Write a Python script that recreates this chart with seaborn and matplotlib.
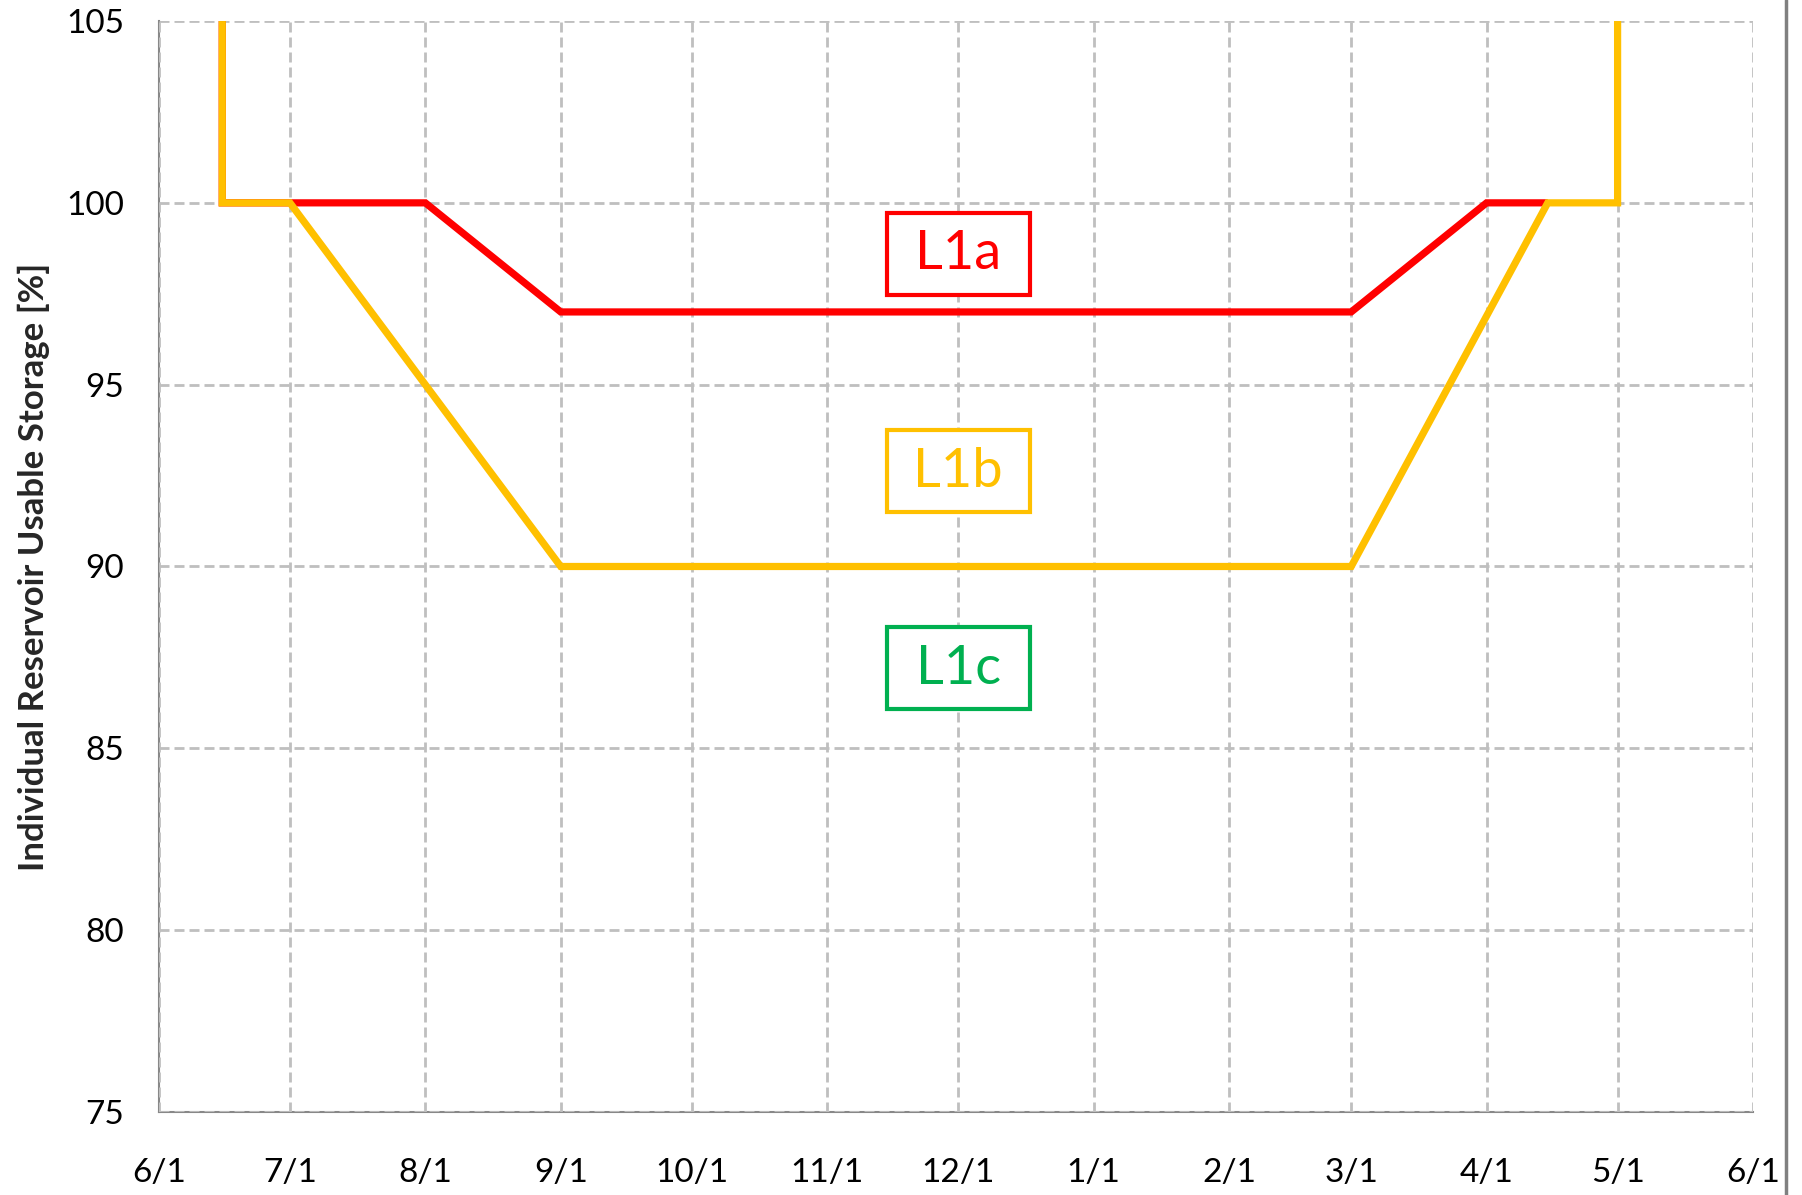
import matplotlib
matplotlib.use("Agg")
import matplotlib.pyplot as plt
import matplotlib.lines as mlines
from matplotlib.patches import Rectangle
import matplotlib.dates as mdates
import pandas as pd
import seaborn as sns

# ---- data ----
l1a_dates = ["2001-06-15 12:00", "2001-06-15 12:00", "2001-08-01 00:00",
             "2001-09-01 00:00", "2002-03-01 00:00", "2002-04-01 00:00",
             "2002-04-15 00:00"]
l1a_values = [105, 100, 100, 97, 97, 100, 100]

l1b_dates = ["2001-06-15 12:00", "2001-06-15 12:00", "2001-07-01 00:00",
             "2001-09-01 00:00", "2002-03-01 00:00", "2002-04-15 00:00",
             "2002-05-01 00:00", "2002-05-01 00:00"]
l1b_values = [105, 100, 100, 90, 90, 100, 100, 105]

tick_dates = pd.date_range("2001-06-01", "2002-06-01", freq="MS")
tick_labels = [f"{d.month}/1" for d in tick_dates]
y_ticks = [75, 80, 85, 90, 95, 100, 105]

labels = ["L1a", "L1b", "L1c"]
label_y = [98.6, 92.62, 87.2]
label_x = "2001-12-01"

RED = "#FF0000"
ORANGE = "#FFC000"
GREEN = "#00B050"
label_colors = [RED, ORANGE, GREEN]

sns.set_style("white")
plt.rcParams["font.family"] = ["Lato", "DejaVu Sans"]

fig = plt.figure(figsize=(18.02, 11.95), dpi=100)
ax = fig.add_axes([0.0882, 0.0695, 0.9728 - 0.0882, 0.9824 - 0.0695])

df_a = pd.DataFrame({"date": pd.to_datetime(l1a_dates, format="%Y-%m-%d %H:%M"),
                     "value": l1a_values})
df_b = pd.DataFrame({"date": pd.to_datetime(l1b_dates, format="%Y-%m-%d %H:%M"),
                     "value": l1b_values})

sns.lineplot(data=df_a, x="date", y="value", sort=False, estimator=None,
             color=RED, linewidth=5.2, ax=ax, zorder=3,
             solid_joinstyle="miter", solid_capstyle="butt")
sns.lineplot(data=df_b, x="date", y="value", sort=False, estimator=None,
             color=ORANGE, linewidth=5.2, ax=ax, zorder=4,
             solid_joinstyle="miter", solid_capstyle="butt")

ax.set_xlim(tick_dates[0], tick_dates[-1])
ax.set_ylim(75, 105)
ax.set_xticks(tick_dates)
ax.set_xticklabels(tick_labels)
ax.set_yticks(y_ticks)

ax.grid(True, color="#BFBFBF", linestyle=(0, (3.6, 1.8)), linewidth=2, zorder=1)
ax.set_axisbelow(True)

for s in ["top", "right"]:
    ax.spines[s].set_visible(False)
for s in ["left", "bottom"]:
    ax.spines[s].set_color("#888888")
    ax.spines[s].set_linewidth(1.5)
    ax.spines[s].set_zorder(0.5)

ax.tick_params(axis="both", which="both", direction="out", length=9, width=1.5,
               color="#888888", labelsize=24, labelcolor="#000000")
ax.tick_params(axis="x", pad=24)
ax.tick_params(axis="y", pad=16)

ax.set_xlabel("")
ax.set_ylabel("Individual Reservoir Usable Storage [%]", fontsize=25,
              fontweight="bold", labelpad=12)

# label boxes (half width in days, half height in % units)
half_w = pd.Timedelta(days=16.4)
half_h = 1.13
for txt, yv, c in zip(labels, label_y, label_colors):
    xc = pd.Timestamp(label_x)
    x0 = mdates.date2num(xc - half_w)
    w = mdates.date2num(xc + half_w) - x0
    ax.add_patch(Rectangle((x0, yv - half_h), w, 2 * half_h, facecolor="white",
                           edgecolor=c, linewidth=3, zorder=5))
    ax.text(xc, yv, txt, color=c, fontsize=39, ha="center", va="center",
            zorder=6)

# right image border line
fig.add_artist(mlines.Line2D([1786 / 1802, 1786 / 1802], [0, 1],
                             transform=fig.transFigure, color="#808080",
                             linewidth=2.5))

fig.savefig("out.png", dpi=100)
